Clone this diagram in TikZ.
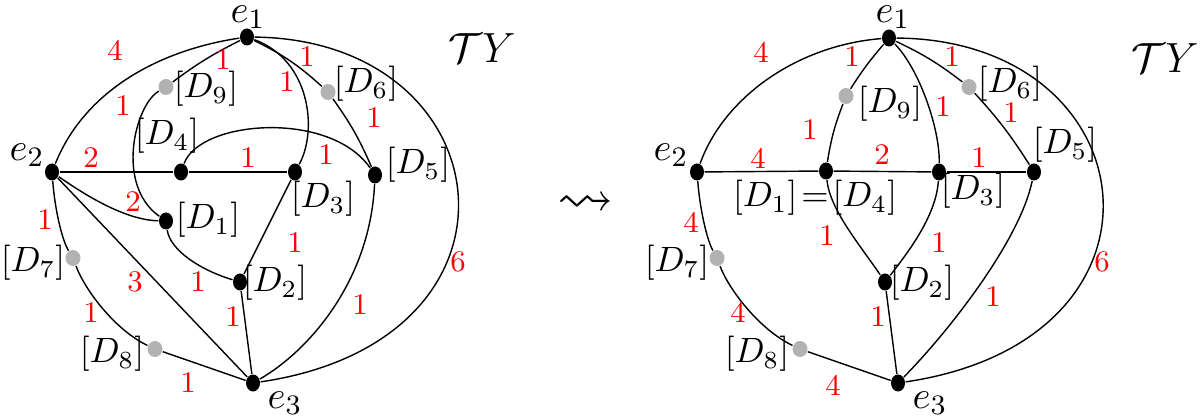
\documentclass[tikz,border=0pt]{standalone}
\usepackage{amssymb}
\usetikzlibrary{shapes.geometric}
\begin{document}
\begin{tikzpicture}[x=0.01cm,y=-0.01cm,
  bdot/.style={ellipse,fill=black,inner sep=0pt,minimum width=0.14cm,minimum height=0.17cm},
  gdot/.style={ellipse,fill=black!30,inner sep=0pt,minimum width=0.15cm,minimum height=0.16cm},
  edge/.style={line width=0.4pt},
  wt/.style={text=red,font=\fontsize{8.5}{10}\selectfont,inner sep=0pt},
  lab/.style={font=\fontsize{10}{12}\selectfont,inner sep=0pt},
  elab/.style={font=\fontsize{11}{13}\selectfont,inner sep=0pt},
  tlab/.style={font=\fontsize{13}{15}\selectfont,inner sep=0pt}]
\useasboundingbox (0,0) rectangle (1204,419);

% ---------- left graph ----------
\node[bdot] (e1) at (247,37) {};
\node[bdot] (e2) at (52,172) {};
\node[bdot] (e3) at (253,383) {};
\node[bdot] (D4) at (181,172) {};
\node[bdot] (D3) at (295,172) {};
\node[bdot] (D5) at (375,175) {};
\node[bdot] (D1) at (166,221) {};
\node[bdot] (D2) at (240,282) {};
\node[gdot] (D6) at (328,92) {};
\node[gdot] (D9) at (166,87) {};
\node[gdot] (D7) at (73,258) {};
\node[gdot] (D8) at (155,349) {};

\draw[edge] (e2) .. controls (85,90) and (160,50) .. (e1);
\draw[edge] (e1) to[bend right=5] (D9);
\draw[edge] (D9) .. controls (135,105) and (115,185) .. (D1);
\draw[edge] (e1) .. controls (310,60) and (318,130) .. (D3);
\draw[edge] (e1) to[bend left=8] (D6);
\draw[edge] (D6) to[bend left=6] (D5);
\draw[edge] (e1) .. controls (505,40) and (545,340) .. (e3);
\draw[edge] (D4) .. controls (200,120) and (330,110) .. (D5);
\draw[edge] (e2) -- (D4);
\draw[edge] (D4) -- (D3);
\draw[edge] (D3) -- (D2);
\draw[edge] (D5) .. controls (370,280) and (310,350) .. (e3);
\draw[edge] (e2) .. controls (85,195) and (125,220) .. (D1);
\draw[edge] (D1) .. controls (170,250) and (200,270) .. (D2);
\draw[edge] (D2) -- (e3);
\draw[edge] (e2) -- (e3);
\draw[edge] (e2) .. controls (55,210) and (62,240) .. (D7);
\draw[edge] (D7) .. controls (85,290) and (115,330) .. (D8);
\draw[edge] (D8) -- (e3);

\node[elab] (le1) at (248,17) {$e_1$};
\node[elab] (le2) at (27,155) {$e_2$};
\node[elab] (le3) at (285,403) {$e_3$};
\node[lab] (lD9) at (206,89) {$[D_9]$};
\node[lab] (lD4) at (167,136) {$[D_4]$};
\node[lab] (lD6) at (366,84) {$[D_6]$};
\node[lab] (lD5) at (418,165) {$[D_5]$};
\node[lab] (lD3) at (323,199) {$[D_3]$};
\node[lab] (lD1) at (208,220) {$[D_1]$};
\node[lab] (lD2) at (275,283) {$[D_2]$};
\node[lab] (lD7) at (33,263) {$[D_7]$};
\node[lab] (lD8) at (112,354) {$[D_8]$};
\node[tlab] (lTY) at (482,48) {$\mathcal{T}Y$};

\node[wt] at (115,50) {4};
\node[wt] at (223,60) {1};
\node[wt] at (123,106) {1};
\node[wt] at (287,82) {1};
\node[wt] at (307,57) {1};
\node[wt] at (374,118) {1};
\node[wt] at (326,155) {1};
\node[wt] at (91,158) {2};
\node[wt] at (248,158) {1};
\node[wt] at (133,202) {2};
\node[wt] at (45,220) {1};
\node[wt] at (135,282) {3};
\node[wt] at (198,282) {1};
\node[wt] at (295,243) {1};
\node[wt] at (91,313) {1};
\node[wt] at (233,317) {1};
\node[wt] at (360,305) {1};
\node[wt] at (458,262) {6};
\node[wt] at (188,383) {1};

% ---------- arrow ----------
\node[font=\fontsize{16}{18}\selectfont,inner sep=0pt] (sq) at (586,205) {$\rightsquigarrow$};

% ---------- right graph ----------
\node[bdot] (r1) at (889,38) {};
\node[bdot] (r2) at (697,172) {};
\node[bdot] (r3) at (898,383) {};
\node[bdot] (R14) at (826,171) {};
\node[bdot] (R3) at (939,172) {};
\node[bdot] (R5) at (1034,172) {};
\node[bdot] (R2) at (885,282) {};
\node[gdot] (R6) at (969,87) {};
\node[gdot] (R9) at (846,96) {};
\node[gdot] (R7) at (717,258) {};
\node[gdot] (R8) at (800,349) {};

\draw[edge] (r2) .. controls (725,95) and (800,45) .. (r1);
\draw[edge] (r1) to[bend right=4] (R9);
\draw[edge] (R9) to[bend right=6] (R14);
\draw[edge] (r1) .. controls (920,70) and (940,130) .. (R3);
\draw[edge] (r1) to[bend left=6] (R6);
\draw[edge] (R6) to[bend left=5] (R5);
\draw[edge] (r1) .. controls (1150,40) and (1190,340) .. (r3);
\draw[edge] (r2) -- (R14);
\draw[edge] (R14) -- (R3);
\draw[edge] (R3) -- (R5);
\draw[edge] (R14) .. controls (830,210) and (860,245) .. (R2);
\draw[edge] (R3) .. controls (936,215) and (910,250) .. (R2);
\draw[edge] (R2) -- (r3);
\draw[edge] (R5) .. controls (1020,240) and (950,330) .. (r3);
\draw[edge] (r2) .. controls (700,210) and (707,240) .. (R7);
\draw[edge] (R7) .. controls (729,290) and (760,330) .. (R8);
\draw[edge] (R8) -- (r3);

\node[elab] (re1) at (893,17) {$e_1$};
\node[elab] (re2) at (671,155) {$e_2$};
\node[elab] (re3) at (930,403) {$e_3$};
\node[lab] (rD9) at (890,104) {$[D_9]$};
\node[lab] (rD6) at (1010,84) {$[D_6]$};
\node[lab] (rD5) at (1065,145) {$[D_5]$};
\node[lab] (rD3) at (973,191) {$[D_3]$};
\node[lab] (rD14) at (815,198) {$[D_1]\!=\![D_4]$};
\node[lab] (rD2) at (922,283) {$[D_2]$};
\node[lab] (rD7) at (677,263) {$[D_7]$};
\node[lab] (rD8) at (757,354) {$[D_8]$};
\node[tlab] (rTY) at (1165,58) {$\mathcal{T}Y$};

\node[wt] at (761,52) {4};
\node[wt] at (852,57) {1};
\node[wt] at (810,130) {1};
\node[wt] at (758,158) {4};
\node[wt] at (882,155) {2};
\node[wt] at (952,57) {1};
\node[wt] at (943,107) {1};
\node[wt] at (1011,113) {1};
\node[wt] at (979,158) {1};
\node[wt] at (691,222) {4};
\node[wt] at (827,236) {1};
\node[wt] at (939,243) {1};
\node[wt] at (738,312) {4};
\node[wt] at (878,317) {1};
\node[wt] at (993,297) {1};
\node[wt] at (1102,262) {6};
\node[wt] at (833,385) {4};
\end{tikzpicture}
\end{document}
